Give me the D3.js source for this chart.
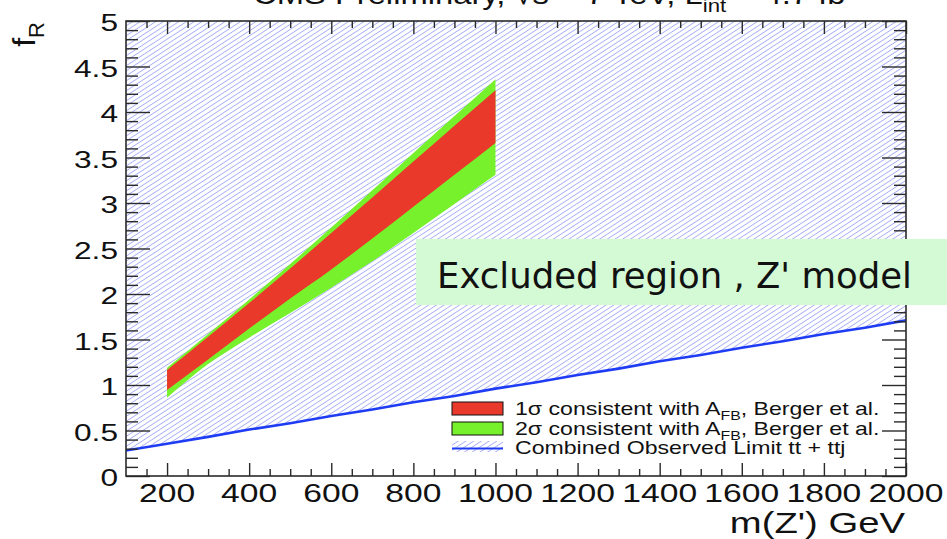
<!DOCTYPE html>
<html>
<head>
<meta charset="utf-8">
<script src="https://cdn.jsdelivr.net/npm/d3@7"></script>
<style>
  html, body { margin: 0; padding: 0; background: #fff; }
  svg { display: block; }
  text { font-family: "Liberation Sans", Arial, Helvetica, sans-serif; fill: #111; }
</style>
</head>
<body>
<svg id="chart" width="947" height="539"></svg>
<script>
// Z' mass points (GeV) where the A_FB-consistent bands are evaluated
const bandMass = [200, 300, 400, 500, 600, 700, 800, 900, 1000];
// 2 sigma band edges in f_R
const band2Low  = [0.86, 1.23, 1.52, 1.79, 2.07, 2.36, 2.67, 2.99, 3.31];
const band2High = [1.19, 1.56, 1.94, 2.33, 2.73, 3.14, 3.55, 3.955, 4.36];
// 1 sigma band edges in f_R
const band1Low  = [0.945, 1.28, 1.62, 1.95, 2.27, 2.61, 2.96, 3.31, 3.66];
const band1High = [1.165, 1.53, 1.90, 2.28, 2.67, 3.06, 3.455, 3.85, 4.24];

// Combined observed limit (tt + ttj): f_R above the curve is excluded
const limitMass = [100, 200, 300, 400, 500, 600, 700, 800, 900, 1000,
                   1100, 1200, 1300, 1400, 1500, 1600, 1700, 1800, 1900, 2000];
const limitFR   = [0.28, 0.355, 0.43, 0.51, 0.58, 0.66, 0.73, 0.81, 0.88, 0.96,
                   1.03, 1.11, 1.18, 1.26, 1.33, 1.41, 1.48, 1.56, 1.63, 1.71];

// Axis ticks and labels
const xMajorTicks = [200, 400, 600, 800, 1000, 1200, 1400, 1600, 1800, 2000];
const yMajorTicks = [0, 0.5, 1, 1.5, 2, 2.5, 3, 3.5, 4, 4.5, 5];
const xDomain = [100, 2000];
const yDomain = [0, 5];

const legendLabels = ["1\u03c3 consistent with A", "2\u03c3 consistent with A", "Combined Observed Limit tt + ttj"];
const titleText = "CMS Preliminary, \u221as = 7 TeV, L";

const colRed = "#e8392a";
const colGreen = "#77f12b";
const colLimit = "#1f3cf5";
const colHatch = "#a6adf5";
const colAxis = "#2a2a2a";
const STRETCH = 1.32;   // horizontal glyph stretch of the ROOT-style labels

const svg = d3.select("#chart");
const frame = {left: 126, right: 906, top: 21, bottom: 476};

const x = d3.scaleLinear().domain(xDomain).range([frame.left, frame.right]);
const y = d3.scaleLinear().domain(yDomain).range([frame.bottom, frame.top]);

// diagonal hatch pattern for the excluded region
const defs = svg.append("defs");
const pat = defs.append("pattern")
  .attr("id", "hatch")
  .attr("patternUnits", "userSpaceOnUse")
  .attr("width", 10).attr("height", 4.2)
  .attr("patternTransform", "rotate(-33)");
pat.append("line")
  .attr("x1", -1).attr("x2", 11).attr("y1", 2.1).attr("y2", 2.1)
  .attr("stroke", colHatch).attr("stroke-width", 0.9);

defs.append("clipPath").attr("id", "plotClip")
  .append("rect")
  .attr("x", frame.left).attr("y", frame.top)
  .attr("width", frame.right - frame.left).attr("height", frame.bottom - frame.top);

const plot = svg.append("g").attr("clip-path", "url(#plotClip)");

// excluded region: from the limit curve up to the top of the frame
const limitPts = limitMass.map((m, i) => [m, limitFR[i]]);
const excluded = d3.area()
  .x(d => x(d[0]))
  .y0(d => y(d[1]))
  .y1(() => y(yDomain[1]));
plot.append("path").datum(limitPts)
  .attr("d", excluded)
  .attr("fill", "url(#hatch)");

// A_FB bands
const bandArea = (lo, hi) => d3.area()
  .curve(d3.curveMonotoneX)
  .x((d, i) => x(bandMass[i]))
  .y0((d, i) => y(lo[i]))
  .y1((d, i) => y(hi[i]));
plot.append("path")
  .attr("d", bandArea(band2Low, band2High)(bandMass))
  .attr("fill", colGreen);
plot.append("path")
  .attr("d", bandArea(band1Low, band1High)(bandMass))
  .attr("fill", colRed);

// limit curve
plot.append("path").datum(limitPts)
  .attr("d", d3.line().x(d => x(d[0])).y(d => y(d[1])))
  .attr("fill", "none")
  .attr("stroke", colLimit)
  .attr("stroke-width", 2.6);

// legend
const leg = svg.append("g");
leg.append("rect").attr("x", 446).attr("y", 399).attr("width", 445).attr("height", 58).attr("fill", "#fff");
const entryY = [408.5, 428.5, 447.5];
leg.append("rect").attr("x", 452).attr("y", 402).attr("width", 51).attr("height", 13)
  .attr("fill", colRed).attr("stroke", "#111").attr("stroke-width", 1);
leg.append("rect").attr("x", 452).attr("y", 422).attr("width", 51).attr("height", 13)
  .attr("fill", colGreen).attr("stroke", "#111").attr("stroke-width", 1);
leg.append("rect").attr("x", 452).attr("y", 441).attr("width", 51).attr("height", 11)
  .attr("fill", "url(#hatch)");
leg.append("line").attr("x1", 452).attr("x2", 503).attr("y1", 448.5).attr("y2", 448.5)
  .attr("stroke", colLimit).attr("stroke-width", 2);

legendLabels.forEach((lab, i) => {
  const g = leg.append("g").attr("transform", `translate(515,${entryY[i] + 6.5}) scale(${STRETCH},1)`);
  const t = g.append("text").attr("font-size", 17.5);
  t.append("tspan").text(lab);
  if (i < 2) {
    t.append("tspan").attr("font-size", 12).attr("dy", 5).text("FB");
    t.append("tspan").attr("dy", -5).text(", Berger et al.");
  }
});

// axes: ticks drawn inward on all four sides
const xMinor = d3.range(150, 2000, 50).filter(v => v % 200 !== 0);
const yMinor = d3.range(1, 50).map(v => v / 10).filter(v => Math.round(v * 10) % 5 !== 0);

function styleAxis(g) {
  g.select(".domain").remove();
  g.selectAll(".tick line").attr("stroke", colAxis).attr("stroke-width", 1.4);
  g.selectAll(".tick text").remove();
}
const axes = svg.append("g");
axes.append("g").attr("transform", `translate(0,${frame.bottom})`)
  .call(d3.axisBottom(x).tickValues(xMajorTicks).tickSize(-13)).call(styleAxis);
axes.append("g").attr("transform", `translate(0,${frame.bottom})`)
  .call(d3.axisBottom(x).tickValues(xMinor).tickSize(-7)).call(styleAxis);
axes.append("g").attr("transform", `translate(0,${frame.top})`)
  .call(d3.axisTop(x).tickValues(xMajorTicks).tickSize(-13)).call(styleAxis);
axes.append("g").attr("transform", `translate(0,${frame.top})`)
  .call(d3.axisTop(x).tickValues(xMinor).tickSize(-7)).call(styleAxis);
axes.append("g").attr("transform", `translate(${frame.left},0)`)
  .call(d3.axisLeft(y).tickValues(yMajorTicks).tickSize(-24)).call(styleAxis);
axes.append("g").attr("transform", `translate(${frame.left},0)`)
  .call(d3.axisLeft(y).tickValues(yMinor).tickSize(-12)).call(styleAxis);
axes.append("g").attr("transform", `translate(${frame.right},0)`)
  .call(d3.axisRight(y).tickValues(yMajorTicks).tickSize(-24)).call(styleAxis);
axes.append("g").attr("transform", `translate(${frame.right},0)`)
  .call(d3.axisRight(y).tickValues(yMinor).tickSize(-12)).call(styleAxis);

axes.append("rect")
  .attr("x", frame.left).attr("y", frame.top)
  .attr("width", frame.right - frame.left).attr("height", frame.bottom - frame.top)
  .attr("fill", "none").attr("stroke", colAxis).attr("stroke-width", 1.6);

// tick labels
xMajorTicks.forEach(v => {
  axes.append("g").attr("transform", `translate(${x(v)},${frame.bottom + 26}) scale(${STRETCH},1)`)
    .append("text").attr("text-anchor", "middle").attr("font-size", 25.5).text(v);
});
yMajorTicks.forEach(v => {
  axes.append("g").attr("transform", `translate(118,${y(v) + 10}) scale(${STRETCH},1)`)
    .append("text").attr("text-anchor", "end").attr("font-size", 24).text(v);
});

// axis titles
svg.append("g").attr("transform", `translate(905,533) scale(${STRETCH},1)`)
  .append("text").attr("text-anchor", "end").attr("font-size", 29).text("m(Z') GeV");

const yt = svg.append("g").attr("transform", "translate(35,22) rotate(-90)")
  .append("text").attr("text-anchor", "end").attr("font-size", 32);
yt.append("tspan").text("f");
yt.append("tspan").attr("font-size", 22).attr("dy", 9).text("R");

// title (mostly above the page edge)
const tt = svg.append("g").attr("transform", "translate(253,4) scale(1.17,1)")
  .append("text").attr("font-size", 28);
tt.append("tspan").text(titleText);
tt.append("tspan").attr("font-size", 19).attr("dy", 8).text("int");
tt.append("tspan").attr("dy", -8).text(" = 4.7 fb");
tt.append("tspan").attr("font-size", 19).attr("dy", -12).text("-1");

// annotation box
svg.append("rect").attr("x", 416).attr("y", 239).attr("width", 540).attr("height", 66)
  .attr("fill", "#d4f9d5");
svg.append("text").attr("x", 437).attr("y", 288)
  .style("font-family", "'DejaVu Sans', Verdana, sans-serif")
  .attr("font-size", 35.5).attr("fill", "#000")
  .text("Excluded region , Z' model");
</script>
</body>
</html>
